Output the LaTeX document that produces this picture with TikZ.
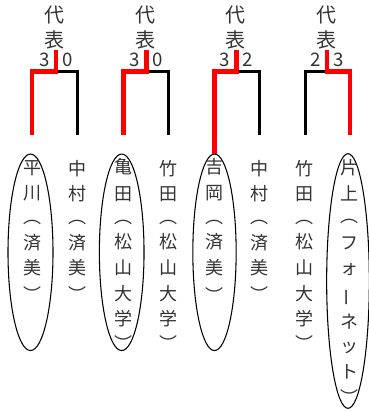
\documentclass[tikz,border=0pt]{standalone}
\usepackage{fontspec}
\newfontfamily\jp{Noto Sans CJK JP}
\usetikzlibrary{shapes.geometric}
\definecolor{txt}{HTML}{333333}
\newcommand\namecol[3]{%
  \foreach \c/\y [count=\k] in {#3} {\node[ch] (#1-\k) at (#2,\y) {\c};}}
\begin{document}
\begin{tikzpicture}[x=0.75pt,y=-0.75pt,
  ch/.style={font=\jp\fontsize{13.5pt}{13.5pt}\selectfont, text=txt, inner sep=0pt, anchor=center},
  hd/.style={font=\jp\fontsize{15pt}{15pt}\selectfont, text=txt, inner sep=0pt},
  sc/.style={font=\jp\fontsize{14pt}{14pt}\selectfont, text=txt, inner sep=0pt},
  win/.style={red, line width=3.4pt},
  lose/.style={black, line width=2.25pt},
  oval/.style={draw, ellipse, line width=0.8pt, inner sep=0pt}]
\useasboundingbox (0,0) rectangle (369,412);
% ellipses
\node[oval, minimum width=33.75pt, minimum height=147.4pt] (e1) at (30.5,252.3) {};
\node[oval, minimum width=33.5pt, minimum height=147.4pt] (e3) at (121.7,252.3) {};
\node[oval, minimum width=32.5pt, minimum height=147.4pt] (e5) at (214.5,252.3) {};
\node[oval, minimum width=32pt, minimum height=191pt] (e8) at (348,281) {};
% names
\namecol{n1}{32.5}{平/168, 川/193, ︵/222.5, 済/243, 美/268, ︶/293.5}
\namecol{n2}{78}{中/169, 村/194, ︵/222.5, 済/243, 美/268, ︶/293.5}
\namecol{n3}{123}{亀/167, 田/194, ︵/222.5, 松/242, 山/268, 大/294, 学/318.5, ︶/342.5}
\namecol{n4}{168.5}{竹/168.5, 田/194.5, ︵/222.5, 松/242, 山/268, 大/294, 学/318.5, ︶/342.5}
\namecol{n5}{214.5}{吉/166.5, 岡/193, ︵/222.5, 済/242, 美/267.5, ︶/294.5}
\namecol{n6}{259.5}{中/169, 村/194, ︵/222.5, 済/243, 美/268, ︶/293.5}
\namecol{n7}{304.5}{竹/168.5, 田/194.5, ︵/222.5, 松/242, 山/268, 大/294, 学/318.5, ︶/342.5}
\namecol{n8}{350}{片/168, 上/193.5, ︵/221.5, フ/243, ォ/269.5, ネ/322, ッ/348, ト/372, ︶/397}
\node[ch, rotate=90] (n8-bar) at (350,297) {ー};
% brackets
\foreach \L/\C/\R/\a/\b [count=\i] in {32/56/78/3/0, 123.5/146.5/168.5/3/0, 214.5/236.5/259.5/3/2, 305.5/327/350/2/3} {
  \coordinate (t\i) at (\C,50);
  \coordinate (m\i) at (\C,71.5);
  \coordinate (l\i) at (\L,71.5);
  \coordinate (r\i) at (\R,71.5);
  \coordinate (lb\i) at (\L,135);
  \coordinate (rb\i) at (\R,135);
  \node[hd] (h\i a) at (\C-1,15.5) {代};
  \node[hd] (h\i b) at (\C-1,39.5) {表};
  \node[sc] (s\i l) at (\C-11.5,60) {\a};
  \node[sc] (s\i r) at (\C+11.5,60) {\b};
}
\draw[lose] (m1) -- (r1) -- (rb1);
\draw[win] (lb1) -- (l1) -- (m1) -- (t1);
\draw[lose] (m2) -- (r2) -- (rb2);
\draw[win] (lb2) -- (l2) -- (m2) -- (t2);
\draw[lose] (m3) -- (r3) -- (rb3);
\draw[win] (e5.north) -- (l3) -- (m3) -- (t3);
\draw[lose] (m4) -- (l4) -- (lb4);
\draw[win] (rb4) -- (r4) -- (m4) -- (t4);
\end{tikzpicture}
\end{document}
